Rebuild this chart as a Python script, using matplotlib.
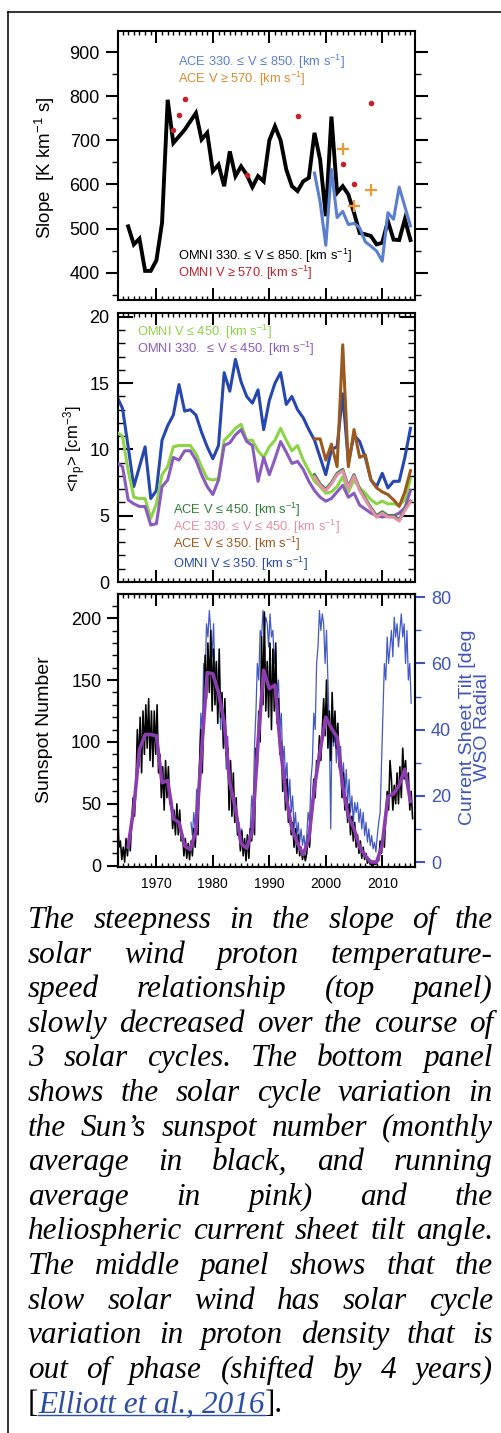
import numpy as np
import matplotlib
matplotlib.use('Agg')
import matplotlib.pyplot as plt
from matplotlib.lines import Line2D
from matplotlib.ticker import MultipleLocator

plt.rcParams['font.family'] = ['Liberation Sans', 'DejaVu Sans']
plt.rcParams['mathtext.fontset'] = 'custom'
plt.rcParams['mathtext.rm'] = 'Liberation Sans'
plt.rcParams['mathtext.it'] = 'Liberation Sans:italic'
plt.rcParams['mathtext.bf'] = 'Liberation Sans:bold'

# ---------------- data ----------------
# Top panel: slope of T-V relationship
slope_years = list(range(1965, 2016))
omni_slope = [505, 464, 477, 404, 404, 428, 513, 792, 694, 709,
              724, 743, 762, 702, 717, 630, 645, 596, 675, 619,
              641, 622, 594, 619, 607, 700, 732, 700, 634, 596,
              585, 607, 615, 717, 656, 528, 754, 581, 596, 577,
              536, 490, 487, 483, 464, 468, 517, 475, 474, 521, 474]
ace_years = list(range(1998, 2016))
ace_slope = [626, 560, 462, 634, 525, 539, 509, 512, 502, 470,
             460, 449, 426, 536, 521, 594, 550, 506]
omni_fast_years = [1973, 1974, 1975, 1986, 1995, 2003, 2005, 2008]
omni_fast_slope = [723, 758, 794, 622, 756, 647, 602, 785]
ace_fast_years = [2003, 2005, 2008]
ace_fast_slope = [680, 552, 588]

# Middle panel: proton density
np_years = list(range(1963, 2016))
omni_np_350 = [14.0, 13.1, 10.2, 7.2, 8.7, 10.2, 6.3, 6.9, 10.7, 11.8,
               12.6, 14.9, 12.9, 13.0, 12.6, 11.3, 10.2, 9.3, 10.3, 15.8,
               14.4, 16.8, 15.1, 14.0, 13.5, 14.5, 11.5, 13.7, 15.0, 15.8,
               13.4, 14.0, 13.0, 12.4, 11.5, 10.7, 9.4, 8.1, 10.0, 10.2,
               14.2, 9.0, 11.1, 10.6, 9.4, 7.7, 7.2, 8.2, 7.1, 7.6,
               7.6, 9.4, 11.6]
omni_np_450 = [11.3, 11.0, 8.4, 6.4, 6.3, 6.3, 4.8, 5.9, 8.1, 8.7,
               10.2, 10.3, 10.3, 10.3, 9.7, 8.7, 7.8, 7.7, 7.8, 10.7,
               11.1, 11.6, 11.9, 10.7, 10.7, 9.9, 9.4, 10.2, 10.7, 11.6,
               10.7, 9.9, 10.3, 9.2, 8.4, 7.6, 7.2, 6.7, 6.8, 7.2,
               7.95, 6.8, 7.7, 7.1, 6.7, 6.2, 5.9, 6.1, 5.9, 5.9,
               5.8, 6.2, 7.8]
omni_np_330_450 = [9.0, 8.7, 6.2, 5.9, 5.7, 5.7, 4.3, 4.4, 7.2, 7.7,
                   9.4, 9.2, 9.9, 9.9, 9.2, 8.1, 7.2, 6.6, 7.7, 10.3,
                   10.5, 11.1, 11.5, 10.6, 10.3, 7.6, 9.4, 8.1, 9.3, 10.6,
                   9.8, 8.95, 9.1, 8.5, 7.6, 6.9, 6.4, 6.1, 6.3, 6.8,
                   7.3, 6.4, 6.7, 5.8, 5.5, 5.2, 5.0, 4.9, 5.0, 5.0,
                   5.2, 5.6, 6.9]
ace_np_years = list(range(1998, 2016))
ace_np_450 = [8.1, 7.4, 7.0, 7.5, 8.2, 8.5, 7.2, 8.1, 7.0, 6.3,
              5.6, 5.0, 5.3, 5.0, 5.0, 4.7, 5.5, 6.1]
ace_np_330_450 = [7.95, 7.3, 6.9, 7.4, 8.1, 8.4, 7.1, 8.0, 6.9, 6.2,
                  5.5, 4.9, 5.2, 4.9, 4.9, 4.6, 5.4, 6.05]
ace_np_350 = [10.8, 10.8, 9.2, 10.4, 8.7, 17.9, 8.7, 11.5, 9.4, 9.6,
              7.7, 7.1, 6.8, 6.6, 6.2, 5.7, 6.8, 8.4]

# Bottom panel: sunspot number (quarterly samples, 1963-2015) and annual average
ssn_start = 1963
ssn_quarterly = [50, 25, 45, 15,   20, 5, 15, 3,   22, 8, 25, 12,   35, 55, 40, 65,
                 110, 80, 120, 75,  125, 90, 130, 95,  135, 85, 125, 80,  125, 90, 130, 75,
                 90, 55, 80, 45,   85, 55, 80, 50,   55, 30, 45, 25,   50, 25, 45, 20,
                 25, 8, 22, 6,   18, 5, 20, 8,   30, 15, 40, 25,   80, 110, 75, 120,
                 170, 135, 180, 140,  190, 125, 175, 130,  165, 115, 175, 120,  140, 95, 135, 90,
                 95, 45, 85, 40,   75, 35, 55, 25,   30, 12, 28, 8,   22, 4, 25, 6,
                 30, 20, 45, 25,   95, 80, 125, 100,  185, 130, 205, 125,  165, 120, 180, 110,
                 175, 125, 180, 115,  135, 90, 100, 60,  75, 45, 70, 35,   45, 25, 35, 15,
                 30, 10, 25, 8,   15, 5, 12, 4,   10, 25, 15, 35,   50, 70, 55, 85,
                 80, 105, 85, 110,  135, 105, 150, 95,  125, 85, 140, 100,  125, 95, 115, 80,
                 85, 55, 75, 45,   55, 35, 50, 25,   40, 20, 35, 15,   25, 10, 20, 6,
                 15, 5, 10, 2,   5, 1, 4, 0,   2, 1, 6, 4,   20, 10, 25, 15,
                 40, 60, 45, 85,   70, 45, 65, 50,   75, 50, 80, 55,   95, 70, 85, 65,
                 75, 45, 60, 38]
ssn_years = list(range(1965, 2016))
ssn_annual = [15, 47, 94, 106, 106, 105, 67, 69, 38, 35,
              16, 13, 28, 92, 156, 155, 140, 116, 67, 46,
              18, 14, 29, 100, 158, 143, 146, 94, 55, 30,
              18, 9, 22, 64, 93, 120, 111, 104, 64, 40,
              30, 15, 8, 3, 3, 17, 56, 58, 65, 78, 52]
# WSO radial current sheet tilt (quarterly samples from mid-1976)
tilt_start = 1976.125
tilt_quarterly = [12, 8,
                  15, 10, 22, 18,  30, 45, 40, 60,  55, 72, 68, 76,  70, 62, 72, 55,
                  60, 45, 55, 40,  50, 35, 40, 28,  38, 25, 30, 18,  22, 12, 18, 8,
                  12, 6, 10, 4,   6, 3, 8, 5,   10, 20, 15, 35,  45, 60, 55, 70,
                  68, 76, 70, 74,  72, 65, 75, 68,  70, 60, 65, 50,  55, 40, 45, 30,
                  35, 25, 30, 18,  25, 15, 20, 10,  15, 8, 12, 6,   10, 5, 8, 4,
                  8, 15, 12, 25,   30, 45, 40, 60,  65, 76, 70, 75,  72, 60, 70, 55,
                  40, 10, 45, 35,   40, 30, 42, 28,  35, 25, 30, 20,  28, 18, 25, 15,
                  20, 12, 18, 15,  18, 12, 16, 10,  15, 8, 12, 6,   10, 5, 8, 4,
                  6, 3, 8, 12,   15, 30, 45, 60,  55, 68, 60, 65,  70, 62, 74, 68,
                  72, 65, 70, 75,  68, 72, 60, 70,  55, 60, 48]

x_ticks = [1970, 1980, 1990, 2000, 2010]

caption_lines = [
    "The steepness in the slope of the",
    "solar wind proton temperature-",
    "speed relationship (top panel)",
    "slowly decreased over the course of",
    "3 solar cycles. The bottom panel",
    "shows the solar cycle variation in",
    "the Sun\u2019s sunspot number (monthly",
    "average in black, and running",
    "average in pink) and the",
    "heliospheric current sheet tilt angle.",
    "The middle panel shows that the",
    "slow solar wind has solar cycle",
    "variation in proton density that is",
    "out of phase (shifted by 4 years)",
]
caption_last = ["[", "Elliott et al., 2016", "]."]

# ---------------- figure ----------------
W, H = 501, 1433
fig = plt.figure(figsize=(W / 100, H / 100), dpi=100)


def rect(l, t, r, b):
    return [l / W, 1 - b / H, (r - l) / W, (b - t) / H]


def fx(px):
    return px / W


def fy(py):
    return 1 - py / H


XLIM = (1963.2, 2015.8)
SPW = 1.5
TLS = 13  # tick label size


def style_x(ax, labels=False):
    ax.set_xlim(*XLIM)
    ax.set_xticks(x_ticks)
    ax.xaxis.set_minor_locator(MultipleLocator(1))
    ax.tick_params(axis='x', which='both', direction='in', top=True, bottom=True,
                   labelbottom=labels, labeltop=False)
    ax.tick_params(axis='x', which='major', length=8.5, width=1.4, labelsize=10, pad=7)
    ax.tick_params(axis='x', which='minor', length=3.2, width=1.0)
    for s in ax.spines.values():
        s.set_linewidth(SPW)


def legend_text(x, y, s, color, fs):
    fig.text(fx(x), fy(y), s, color=color, fontsize=fs, va='center', ha='left')


# ---- top panel ----
ax1 = fig.add_axes(rect(118, 31, 415, 300))
ax1.plot(slope_years, omni_slope, color='black', lw=2.8, solid_joinstyle='miter', zorder=3)
ax1.plot(ace_years, ace_slope, color='#5B7FD0', lw=2.2, zorder=4)
ax1.plot(omni_fast_years, omni_fast_slope, 'o', color='#C8202A', ms=4, mew=0, zorder=5)
ax1.plot(ace_fast_years, ace_fast_slope, '+', color='#EE9A32', ms=9, mew=1.6, zorder=5)
ax1.set_ylim(338, 948)
style_x(ax1)
ax1.set_yticks([400, 500, 600, 700, 800, 900])
ax1.yaxis.set_minor_locator(MultipleLocator(50))
ax1.tick_params(axis='y', which='both', direction='out', left=True, right=True,
                labelleft=True, labelright=False)
ax1.tick_params(axis='y', which='major', length=9, width=1.5, labelsize=TLS, pad=4)
ax1.tick_params(axis='y', which='minor', length=4.5, width=1.0)

fs_leg = 9.3
legend_text(178, 62, "ACE 330. \u2264 V \u2264 850. [km s$^{-1}$]", '#5B7FD0', fs_leg)
legend_text(178, 79, "ACE V \u2265 570. [km s$^{-1}$]", '#DD8A2E', fs_leg)
legend_text(178, 256, "OMNI 330. \u2264 V \u2264 850. [km s$^{-1}$]", 'black', fs_leg)
legend_text(178, 273, "OMNI V \u2265 570. [km s$^{-1}$]", '#C8202A', fs_leg)
fig.text(fx(45), fy(168), "Slope  [K km$^{-1}$ s]", rotation=90, fontsize=13.5,
         ha='center', va='center')

# ---- middle panel ----
ax2 = fig.add_axes(rect(118, 313, 415, 582))
ax2.plot(np_years, omni_np_350, color='#2747B0', lw=2.2, zorder=2)
ax2.plot(np_years, omni_np_450, color='#8CD446', lw=2.2, zorder=3)
ax2.plot(np_years, omni_np_330_450, color='#8A5BBE', lw=2.2, zorder=4)
ax2.plot(ace_np_years, ace_np_450, color='#2F7F3A', lw=2.2, zorder=5)
ax2.plot(ace_np_years, ace_np_330_450, color='#E38FA8', lw=2.2, zorder=6)
ax2.plot(ace_np_years, ace_np_350, color='#9A5A1F', lw=2.2, zorder=7)
ax2.set_ylim(0, 20.3)
style_x(ax2)
ax2.set_yticks([0, 5, 10, 15, 20])
ax2.yaxis.set_minor_locator(MultipleLocator(1))
ax2.tick_params(axis='y', which='both', direction='in', left=True, right=True,
                labelleft=True, labelright=False)
ax2.tick_params(axis='y', which='major', length=11, width=1.5, labelsize=TLS, pad=6)
ax2.tick_params(axis='y', which='minor', length=5, width=1.0)

legend_text(137, 332, "OMNI V \u2264 450. [km s$^{-1}$]", '#8CD446', fs_leg)
legend_text(137, 349, "OMNI 330.  \u2264 V \u2264 450. [km s$^{-1}$]", '#8A5BBE', fs_leg)
legend_text(173, 510, "ACE V \u2264 450. [km s$^{-1}$]", '#2F7F3A', fs_leg)
legend_text(173, 527, "ACE 330. \u2264 V \u2264 450. [km s$^{-1}$]", '#E38FA8', fs_leg)
legend_text(173, 544, "ACE V \u2264 350. [km s$^{-1}$]", '#9A5A1F', fs_leg)
legend_text(173, 564, "OMNI V \u2264 350. [km s$^{-1}$]", '#2747B0', fs_leg)
fig.text(fx(75), fy(449), "<n$_{\\rm p}$> [cm$^{-3}$]", rotation=90, fontsize=12,
         ha='center', va='center')

# ---- bottom panel ----
ax3 = fig.add_axes(rect(118, 594, 415, 867))
t_ssn = ssn_start - 0.375 + 0.25 * np.arange(len(ssn_quarterly))
ax3.plot(t_ssn, ssn_quarterly, color='black', lw=1.15, zorder=3)
ax3.plot(ssn_years, ssn_annual, color='#8B3DAF', lw=2.6, zorder=5)
ax3.set_ylim(-1, 219.5)
style_x(ax3, labels=True)
ax3.set_yticks([0, 50, 100, 150, 200])
ax3.yaxis.set_minor_locator(MultipleLocator(10))
ax3.tick_params(axis='y', which='both', direction='out', left=True, right=False,
                labelleft=True)
ax3.tick_params(axis='y', which='major', length=8, width=1.5, labelsize=TLS, pad=4)
ax3.tick_params(axis='y', which='minor', length=4, width=1.0)

blue = '#3F53BA'
ax3r = ax3.twinx()
t_tilt = tilt_start + 0.25 * np.arange(len(tilt_quarterly))
ax3r.plot(t_tilt, tilt_quarterly, color='#4359C4', lw=0.9, zorder=4)
ax3r.set_ylim(-1.5, 81)
ax3r.set_xlim(*XLIM)
ax3r.set_yticks([0, 20, 40, 60, 80])
ax3r.yaxis.set_minor_locator(MultipleLocator(10))
ax3r.tick_params(axis='y', which='both', direction='out', colors=blue, labelcolor=blue)
ax3r.tick_params(axis='y', which='major', length=7.5, width=1.5, labelsize=TLS, pad=4)
ax3r.tick_params(axis='y', which='minor', length=4, width=1.0)
for s in ax3r.spines.values():
    s.set_linewidth(SPW)
ax3r.spines['right'].set_color(blue)
ax3.set_zorder(ax3r.get_zorder() + 1)
ax3.patch.set_visible(False)

fig.text(fx(45), fy(730), "Sunspot Number", rotation=90, fontsize=14,
         ha='center', va='center')
fig.text(fx(475), fy(727), "Current Sheet Tilt [deg\nWSO Radial", rotation=90,
         fontsize=14, ha='center', va='center', color=blue, linespacing=0.8,
         multialignment='center')

# ---- frame ----
fig.add_artist(Line2D([fx(8), fx(8)], [fy(12), fy(H + 5)], color='#222222', lw=1.3))
fig.add_artist(Line2D([fx(8), fx(W + 5)], [fy(12), fy(12)], color='#222222', lw=1.3))

# ---- caption (justified) ----
renderer = fig.canvas.get_renderer()
cap_fs = 22.5
serif = ['Liberation Serif', 'DejaVu Serif']
x_left, x_right = 28, 493
y_base0, y_step = 928, 34.6


def measure(words, fs, style='italic'):
    ws = []
    for w in words:
        t = fig.text(0, 0, w, fontsize=fs, family=serif, style=style)
        ws.append(t.get_window_extent(renderer).width)
        t.remove()
    return ws


# shrink font only if a line cannot fit with a minimal gap
while True:
    ok = True
    for line in caption_lines:
        words = line.split(' ')
        ws = measure(words, cap_fs)
        if sum(ws) + 5 * (len(words) - 1) > (x_right - x_left):
            ok = False
            break
    if ok:
        break
    cap_fs -= 0.25

for i, line in enumerate(caption_lines):
    yb = y_base0 + i * y_step
    words = line.split(' ')
    ws = measure(words, cap_fs)
    gap = (x_right - x_left - sum(ws)) / (len(words) - 1)
    x = x_left
    for w, wd in zip(words, ws):
        fig.text(fx(x), fy(yb), w, fontsize=cap_fs, family=serif, style='italic',
                 va='baseline', ha='left', color='black')
        x += wd + gap

yb = y_base0 + len(caption_lines) * y_step
x = x_left
for j, w in enumerate(caption_last):
    st = 'italic' if j == 1 else 'normal'
    wd = measure([w], cap_fs, style=st)[0]
    if j == 1:
        fig.text(fx(x), fy(yb), w, fontsize=cap_fs, family=serif, style='italic',
                 va='baseline', ha='left', color='#2B4DA6')
        fig.add_artist(Line2D([fx(x), fx(x + wd)], [fy(yb + 3), fy(yb + 3)],
                              color='#2B4DA6', lw=1.0))
    else:
        fig.text(fx(x), fy(yb), w, fontsize=cap_fs, family=serif,
                 va='baseline', ha='left', color='black')
    x += wd

fig.savefig('out.png', dpi=100, facecolor='white')
